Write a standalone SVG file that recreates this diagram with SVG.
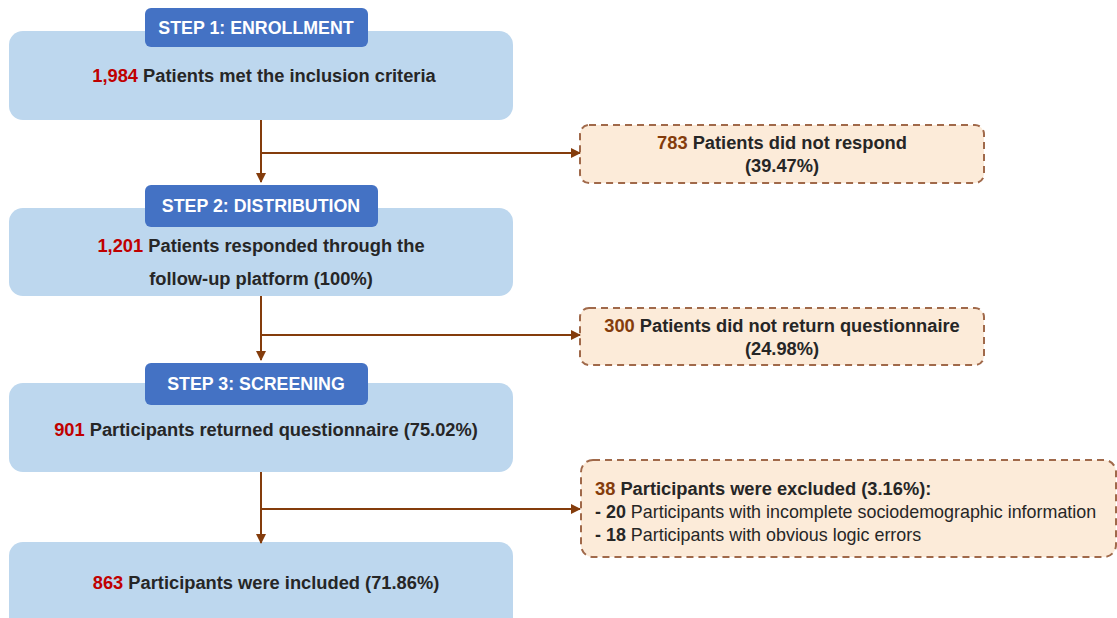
<svg xmlns="http://www.w3.org/2000/svg" width="1117" height="618" viewBox="0 0 1117 618">
<defs>
<marker id="ah" viewBox="0 0 10 10" refX="9" refY="5" markerWidth="10" markerHeight="10" markerUnits="userSpaceOnUse" orient="auto">
<path d="M0,0 L10,5 L0,10 z" fill="#843C0C"/>
</marker>
<style>
text{font-family:"Liberation Sans",Arial,sans-serif;}
.main{fill:#BDD7EE;}
.step{fill:#4472C4;}
.steptxt{fill:#ffffff;font-size:17.8px;font-weight:bold;text-anchor:middle;}
.t{fill:#262626;font-size:18.3px;font-weight:bold;}
.c{text-anchor:middle;}
.red{fill:#C00000;}
.brn{fill:#843C0C;}
.excl{fill:#FCEBD9;stroke:#A0694A;stroke-width:2;stroke-dasharray:7,5;}
.n{font-weight:normal;}
.s{font-size:17.9px;}
.conn{stroke:#843C0C;stroke-width:2;fill:none;}
</style>
</defs>
<rect width="1117" height="618" fill="#ffffff"/>
<g id="step1">
<rect class="main" x="9" y="31" width="504" height="89" rx="14"/>
<rect class="step" x="145" y="8" width="223" height="39" rx="6"/>
<text class="steptxt" x="256" y="34">STEP 1: ENROLLMENT</text>
<text class="t c" x="264" y="82"><tspan class="red">1,984</tspan> Patients met the inclusion criteria</text>
</g>
<g id="excl1">
<rect class="excl" x="580" y="125" width="404" height="58" rx="9"/>
<text class="t c" x="782" y="149"><tspan class="brn">783</tspan> Patients did not respond</text>
<text class="t c" x="782" y="172">(39.47%)</text>
</g>
<g id="step2">
<rect class="main" x="9" y="208" width="504" height="88" rx="14"/>
<rect class="step" x="145" y="185" width="233" height="42" rx="6"/>
<text class="steptxt" x="261" y="212">STEP 2: DISTRIBUTION</text>
<text class="t c" x="261" y="252"><tspan class="red">1,201</tspan> Patients responded through the</text>
<text class="t c" x="261" y="285">follow-up platform (100%)</text>
</g>
<g id="excl2">
<rect class="excl" x="580" y="308" width="404" height="57" rx="9"/>
<text class="t c" x="782" y="332"><tspan class="brn">300</tspan> Patients did not return questionnaire</text>
<text class="t c" x="782" y="355">(24.98%)</text>
</g>
<g id="step3">
<rect class="main" x="9" y="383" width="504" height="89" rx="14"/>
<rect class="step" x="145" y="363" width="223" height="42" rx="6"/>
<text class="steptxt" x="256" y="390">STEP 3: SCREENING</text>
<text class="t c" x="266" y="436"><tspan class="red">901</tspan> Participants returned questionnaire (75.02%)</text>
</g>
<g id="excl3">
<rect class="excl" x="581" y="460" width="535" height="97" rx="12"/>
<text class="t" x="595" y="495"><tspan class="brn">38</tspan> Participants were excluded (3.16%):</text>
<text class="t s" x="595" y="518">- 20<tspan class="n"> Participants with incomplete sociodemographic information</tspan></text>
<text class="t s" x="595" y="541">- 18<tspan class="n"> Participants with obvious logic errors</tspan></text>
</g>
<g id="step4">
<rect class="main" x="9" y="542" width="504" height="90" rx="14"/>
<text class="t c" x="266" y="589"><tspan class="red">863</tspan> Participants were included (71.86%)</text>
</g>
<g id="connectors">
<path class="conn" d="M261,120 V182" marker-end="url(#ah)"/>
<path class="conn" d="M261,153 H580" marker-end="url(#ah)"/>
<path class="conn" d="M261,296 V360" marker-end="url(#ah)"/>
<path class="conn" d="M261,335 H580" marker-end="url(#ah)"/>
<path class="conn" d="M261,472 V543" marker-end="url(#ah)"/>
<path class="conn" d="M261,509 H580" marker-end="url(#ah)"/>
</g>
</svg>
